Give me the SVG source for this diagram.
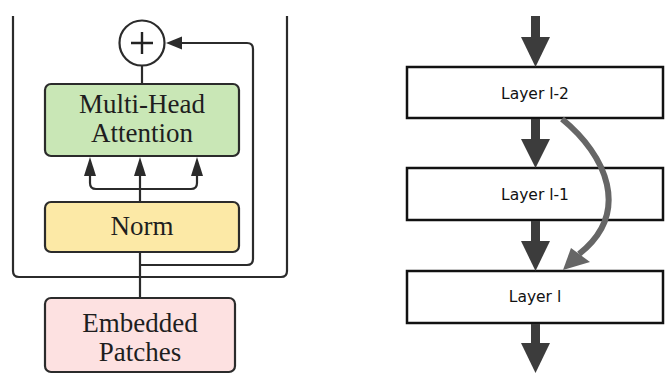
<svg xmlns="http://www.w3.org/2000/svg" width="665" height="379" viewBox="0 0 665 379">
<style>
.ln{fill:none;stroke:#2b2b2b;stroke-width:2.2;stroke-linejoin:round}
.blk{stroke:#2b2b2b;stroke-width:2.2}
.serif{font-family:"Liberation Serif","Times New Roman",serif;font-size:27px;fill:#1e1e1e;text-anchor:middle}
.lay{fill:#fff;stroke:#111;stroke-width:2.5}
.sans{font-family:"DejaVu Sans",sans-serif;font-size:15.5px;fill:#111;text-anchor:middle}
.ah{fill:#2b2b2b}
.big{fill:#3c3c3c}
</style>
<rect width="665" height="379" fill="#fff"/>
<g id="add">
  <circle cx="142" cy="43" r="22.5" fill="#fff" stroke="#2b2b2b" stroke-width="2.2"/>
  <path d="M142 32 V54 M131 43 H153" stroke="#222" stroke-width="2.4"/>
</g>
<g id="mha">
  <rect x="45" y="84" width="194" height="72" rx="6" fill="#c9e7b6" class="blk"/>
  <text class="serif" x="142" y="113">Multi-Head</text>
  <text class="serif" x="142" y="142">Attention</text>
</g>
<g id="norm">
  <rect x="45" y="202" width="194" height="50" rx="6" fill="#fce9a6" class="blk"/>
  <text class="serif" x="142" y="235">Norm</text>
</g>
<g id="embed">
  <rect x="45" y="298" width="190" height="74" rx="6" fill="#fde1e1" class="blk"/>
  <text class="serif" x="140" y="332">Embedded</text>
  <text class="serif" x="140" y="361">Patches</text>
</g>
<g id="layer2">
  <rect class="lay" x="407" y="67" width="256" height="51"/>
  <text class="sans" x="535" y="99">Layer l-2</text>
</g>
<g id="layer1">
  <rect class="lay" x="407" y="168" width="256" height="52"/>
  <text class="sans" x="535" y="200">Layer l-1</text>
</g>
<g id="layer0">
  <rect class="lay" x="407" y="271" width="256" height="52"/>
  <text class="sans" x="535" y="302">Layer l</text>
</g>
<g id="connectors">
  <path class="ln" d="M13 16 V271 Q13 277 19 277 H281 Q287 277 287 271 V16"/>
  <path class="ln" d="M140 297 V253 M140 265 H247 Q253 265 253 259 V49 Q253 43 247 43 H180"/>
  <polygon class="ah" points="166,43 182,36.5 182,49.5"/>
  <line class="ln" x1="142" y1="66" x2="142" y2="83"/>
  <path class="ln" d="M90 174 V183 Q90 189 96 189 H191 Q197 189 197 183 V174 M140 201 V174"/>
  <polygon class="ah" points="90,157 84,176 96,176"/>
  <polygon class="ah" points="140,157 134,176 146,176"/>
  <polygon class="ah" points="197,157 191,176 203,176"/>
  <rect class="big" x="531" y="16" width="9" height="24"/>
  <polygon class="big" points="521,37 550,37 535.5,67"/>
  <rect class="big" x="531" y="119" width="9" height="23"/>
  <polygon class="big" points="521,139 550,139 535.5,168"/>
  <rect class="big" x="531" y="221" width="9" height="23"/>
  <polygon class="big" points="521,241 550,241 535.5,271"/>
  <rect class="big" x="531" y="324" width="9" height="22"/>
  <polygon class="big" points="521,343 550,343 535.5,373"/>
  <path d="M562 119 C606 155, 632 212, 579 254" fill="none" stroke="#666" stroke-width="6"/>
  <polygon fill="#666" points="563,270 571,248 590,262"/>
</g>
</svg>
